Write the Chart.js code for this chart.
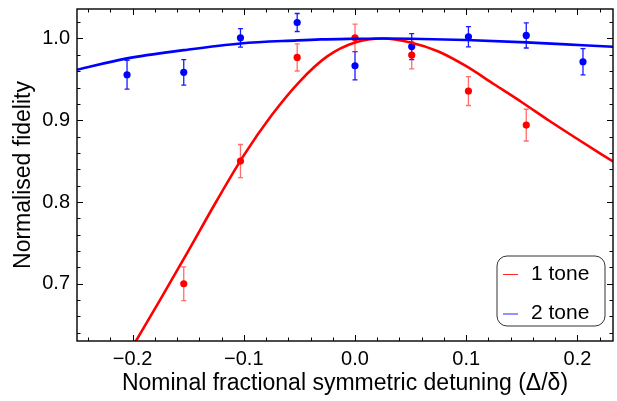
<!DOCTYPE html>
<html>
<head>
<meta charset="utf-8">
<script src="https://cdn.jsdelivr.net/npm/chart.js@4.4.0/dist/chart.umd.min.js"></script>
<style>
html, body { margin: 0; padding: 0; background: #ffffff; }
#wrap { width: 617px; height: 401px; position: relative; }
</style>
</head>
<body>
<div id="wrap"><canvas id="c"></canvas></div>
<script>
// ---- data ----
const blueX = [-0.205, -0.154, -0.103, -0.052, 0.0, 0.051, 0.102, 0.154, 0.205];
const blueY = [0.9556, 0.9585, 1.0007, 1.0195, 0.9666, 0.9900, 1.0020, 1.0037, 0.9715];
const blueErr = [0.0177, 0.0155, 0.0113, 0.0110, 0.0173, 0.0160, 0.0124, 0.0154, 0.0160];

const redX = [-0.154, -0.103, -0.052, 0.0, 0.051, 0.102, 0.154];
const redY = [0.700, 0.850, 0.9768, 1.0007, 0.9796, 0.9357, 0.894];
const redErr = [0.0207, 0.0203, 0.0166, 0.0169, 0.0168, 0.0177, 0.0194];

const blueFitX = [-0.25, -0.205, -0.154, -0.103, -0.052, -0.031, 0.0, 0.025, 0.05, 0.1, 0.154, 0.205, 0.232];
const blueFitY = [0.9617, 0.9756, 0.9857, 0.9939, 0.9976, 0.9988, 0.9996, 1.0, 0.9997, 0.998, 0.9952, 0.9917, 0.9898];

const redFitX = [-0.2, -0.175, -0.15, -0.125, -0.1, -0.075, -0.05, -0.025, 0.0, 0.025, 0.05, 0.075, 0.1, 0.125, 0.15, 0.175, 0.2, 0.232];
const redFitY = [0.623, 0.681, 0.740, 0.800, 0.857, 0.906, 0.947, 0.978, 0.995, 1.0, 0.995, 0.984, 0.966, 0.944, 0.922, 0.899, 0.877, 0.8495];

const xTickValues = [-0.2, -0.1, 0.0, 0.1, 0.2];
const xTickLabels = ['\u22120.2', '\u22120.1', '0.0', '0.1', '0.2'];
const yTickValues = [0.7, 0.8, 0.9, 1.0];
const yTickLabels = ['0.7', '0.8', '0.9', '1.0'];

const legendLabels = ['1 tone', '2 tone'];
const xTitle = 'Nominal fractional symmetric detuning (\u0394/\u03B4)';
const yTitle = 'Normalised fidelity';

const RED = '#ff0000';
const BLUE = '#0000ff';
const FONT = "'Liberation Sans', Arial, Helvetica, sans-serif";

function pts(xs, ys) { return xs.map((x, i) => ({ x: x, y: ys[i] })); }

// error bars drawn beneath markers
const errorBars = {
  id: 'errorBars',
  beforeDatasetsDraw(chart) {
    const { ctx, scales: { x, y } } = chart;
    ctx.save();
    chart.data.datasets.forEach((ds) => {
      if (!ds.errors) return;
      ctx.strokeStyle = ds.errorColor;
      ctx.lineWidth = 1.3;
      ds.data.forEach((p, i) => {
        const px = x.getPixelForValue(p.x);
        const y1 = y.getPixelForValue(p.y - ds.errors[i]);
        const y2 = y.getPixelForValue(p.y + ds.errors[i]);
        ctx.beginPath();
        ctx.moveTo(px, y1); ctx.lineTo(px, y2);
        ctx.moveTo(px - 2.5, y1); ctx.lineTo(px + 2.5, y1);
        ctx.moveTo(px - 2.5, y2); ctx.lineTo(px + 2.5, y2);
        ctx.stroke();
      });
    });
    ctx.restore();
  }
};

// frame with inward ticks on all sides, plus framed legend
const frame = {
  id: 'frame',
  afterDraw(chart) {
    const { ctx, chartArea: a, scales: { x, y } } = chart;
    ctx.save();
    ctx.strokeStyle = '#000';
    ctx.lineWidth = 1;
    ctx.beginPath();
    const xmin = x.min, xmax = x.max;
    for (let k = Math.ceil(xmin / 0.02 - 1e-6); k * 0.02 <= xmax + 1e-9; k++) {
      const v = k * 0.02;
      const major = Math.abs(Math.round(v * 10) - v * 10) < 1e-6;
      const len = major ? 6 : 3.5;
      const px = Math.round(x.getPixelForValue(v)) + 0.5;
      ctx.moveTo(px, a.bottom); ctx.lineTo(px, a.bottom - len);
      ctx.moveTo(px, a.top); ctx.lineTo(px, a.top + len);
    }
    const ymin = y.min, ymax = y.max;
    for (let k = Math.ceil(ymin / 0.02 - 1e-6); k * 0.02 <= ymax + 1e-9; k++) {
      const v = k * 0.02;
      const major = Math.abs(Math.round(v * 10) - v * 10) < 1e-6;
      const len = major ? 6 : 3.5;
      const py = Math.round(y.getPixelForValue(v)) + 0.5;
      ctx.moveTo(a.left, py); ctx.lineTo(a.left + len, py);
      ctx.moveTo(a.right, py); ctx.lineTo(a.right - len, py);
    }
    ctx.stroke();
    ctx.lineWidth = 1.4;
    ctx.strokeRect(a.left, a.top, a.right - a.left, a.bottom - a.top);

    // legend
    const lx = 497, ly = 256, lw = 108, lh = 70;
    ctx.beginPath();
    ctx.roundRect(lx, ly, lw, lh, 10);
    ctx.fillStyle = '#fff';
    ctx.fill();
    ctx.lineWidth = 1;
    ctx.strokeStyle = '#333';
    ctx.stroke();
    const entries = [
      { label: legendLabels[0], color: 'rgba(255,0,0,0.85)', y: 274, base: 279.5 },
      { label: legendLabels[1], color: 'rgba(0,0,255,0.85)', y: 313.5, base: 318.5 }
    ];
    ctx.font = '21px ' + FONT;
    ctx.textAlign = 'left';
    ctx.textBaseline = 'alphabetic';
    entries.forEach(e => {
      ctx.strokeStyle = e.color;
      ctx.lineWidth = 1;
      ctx.beginPath();
      ctx.moveTo(503, e.y + 0.5); ctx.lineTo(518, e.y + 0.5);
      ctx.stroke();
      ctx.fillStyle = '#000';
      ctx.fillText(e.label, 531, e.base);
    });
    ctx.restore();
  }
};

new Chart(document.getElementById('c'), {
  type: 'scatter',
  data: {
    datasets: [
      {
        label: legendLabels[1] + ' fit',
        data: pts(blueFitX, blueFitY),
        showLine: true, borderColor: BLUE, borderWidth: 2.6,
        pointRadius: 0, cubicInterpolationMode: 'monotone', fill: false
      },
      {
        label: legendLabels[0] + ' fit',
        data: pts(redFitX, redFitY),
        showLine: true, borderColor: RED, borderWidth: 2.6,
        pointRadius: 0, cubicInterpolationMode: 'monotone', fill: false
      },
      {
        label: legendLabels[1],
        data: pts(blueX, blueY),
        errors: blueErr, errorColor: 'rgba(0,0,255,0.9)',
        pointRadius: 3.6, pointBackgroundColor: BLUE, pointBorderWidth: 0, pointBorderColor: BLUE
      },
      {
        label: legendLabels[0],
        data: pts(redX, redY),
        errors: redErr, errorColor: 'rgba(255,30,30,0.65)',
        pointRadius: 3.6, pointBackgroundColor: RED, pointBorderWidth: 0, pointBorderColor: RED
      }
    ]
  },
  options: {
    responsive: true,
    maintainAspectRatio: false,
    animation: false,
    layout: { padding: { top: 9, right: 3, left: 0, bottom: 0 } },
    plugins: { legend: { display: false }, tooltip: { enabled: false } },
    scales: {
      x: {
        type: 'linear', min: -0.25, max: 0.232,
        grid: { display: false, drawTicks: false },
        border: { display: false },
        afterBuildTicks: s => { s.ticks = xTickValues.map(v => ({ value: v })); },
        afterFit: s => { s.height = 60; s.paddingLeft = 0; s.paddingRight = 0; },
        ticks: {
          padding: 6, color: '#000', font: { family: FONT, size: 20 },
          maxRotation: 0, autoSkip: false,
          callback: (v) => { const i = xTickValues.findIndex(t => Math.abs(t - v) < 1e-9); return i >= 0 ? xTickLabels[i] : ''; }
        },
        title: { display: true, text: xTitle, color: '#000', font: { family: FONT, size: 23 }, padding: { top: 0, bottom: 4 } }
      },
      y: {
        type: 'linear', min: 0.63, max: 1.036,
        grid: { display: false, drawTicks: false },
        border: { display: false },
        afterBuildTicks: s => { s.ticks = yTickValues.map(v => ({ value: v })); },
        afterFit: s => { s.width = 77; s.paddingTop = 0; s.paddingBottom = 0; },
        ticks: {
          padding: 7, color: '#000', font: { family: FONT, size: 20 },
          autoSkip: false,
          callback: (v) => { const i = yTickValues.findIndex(t => Math.abs(t - v) < 1e-9); return i >= 0 ? yTickLabels[i] : ''; }
        },
        title: { display: true, text: yTitle, color: '#000', font: { family: FONT, size: 23 }, padding: { top: 10, bottom: 0 } }
      }
    }
  },
  plugins: [errorBars, frame]
});
</script>
</body>
</html>
